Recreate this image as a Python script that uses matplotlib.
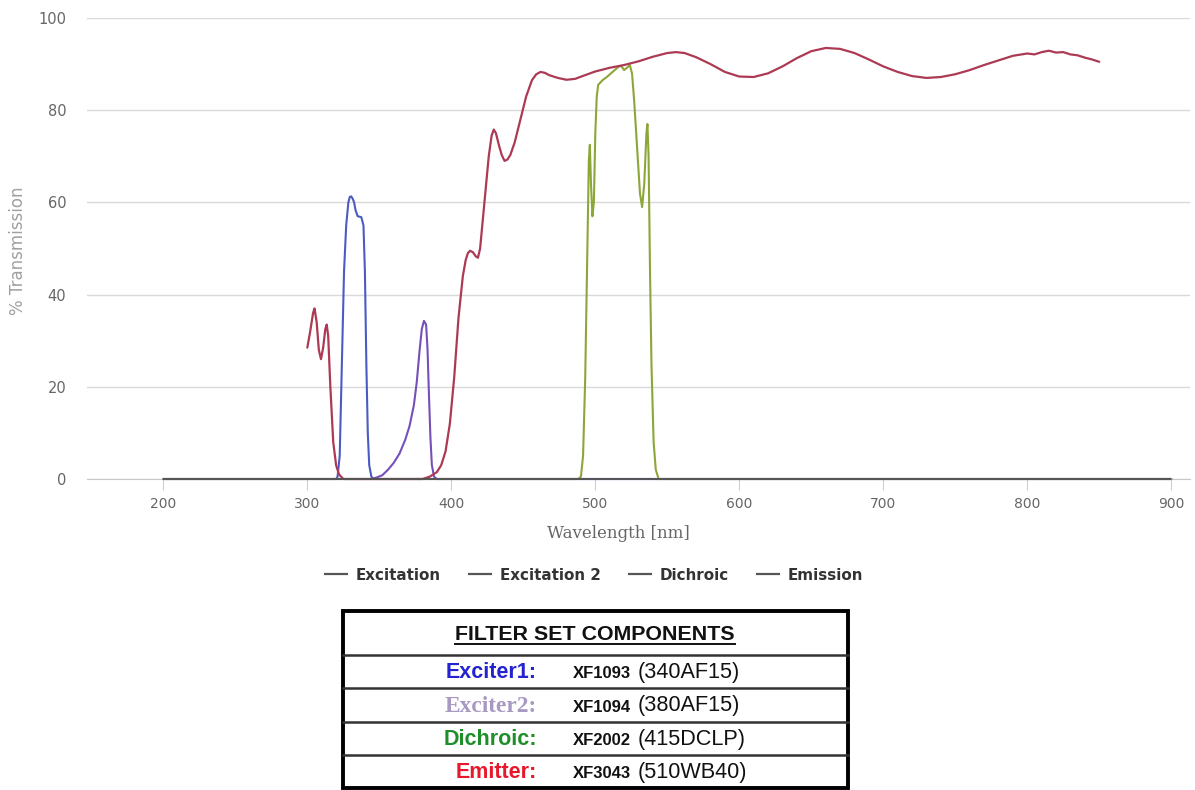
import matplotlib
matplotlib.use("Agg")
import matplotlib.pyplot as plt
from matplotlib.lines import Line2D
from matplotlib.patches import Rectangle

# emission filter (XF3043)
em_wl = [300, 302, 304, 305, 306.5, 308, 309.5, 311, 312.5, 313.5, 314.5, 316, 318, 320, 322, 325,
         380, 385, 390, 393, 396, 399, 402, 405, 408, 410, 411.5, 413, 415, 417, 418.5, 420, 423,
         426, 428, 429.5, 431, 433, 435, 437, 439, 441, 444, 448, 452, 456, 459, 462, 465, 468, 474,
         480, 486, 492, 500, 510, 520, 530, 540, 550, 556, 562, 570, 580, 590, 600,
         610, 620, 630, 640, 650, 660, 670, 680, 690, 700, 710, 720, 730, 740, 750,
         760, 770, 780, 790, 800, 805, 810, 815, 820, 825, 830, 835, 840, 845, 850]
em_t = [28.5, 32, 36, 37, 34, 28, 26, 28.5, 32.5, 33.5, 31, 20, 8, 3, 1, 0,
        0, 0.5, 1.5, 3, 6, 12, 22, 35, 44, 47.5, 49, 49.5, 49.2, 48.3, 48, 50, 60,
        70, 74.5, 75.8, 75, 72.5, 70.3, 69, 69.3, 70.3, 73, 78, 83, 86.5, 87.8, 88.3, 88.1, 87.6, 87,
        86.6, 86.8, 87.5, 88.4, 89.2, 89.8, 90.6, 91.6, 92.4, 92.6, 92.4, 91.5, 90, 88.3, 87.3,
        87.2, 88, 89.5, 91.3, 92.8, 93.5, 93.3, 92.4, 91, 89.5, 88.3, 87.4, 87, 87.2, 87.8,
        88.7, 89.8, 90.8, 91.8, 92.3, 92.1, 92.6, 92.9, 92.5, 92.6, 92.1, 91.9, 91.4, 91.0, 90.5]

# exciter 1 (XF1093)
ex1_wl = [200, 320, 321, 322.5, 324, 325.5, 327, 328.5, 329.5, 330.5, 331.5, 332.5, 333.5,
          335, 337.5, 339, 340, 341, 342, 343, 344.5, 346, 900]
ex1_t = [0, 0, 0.5, 5, 25, 45, 55, 60, 61.2, 61.3, 60.8, 60, 58.3,
         57, 56.8, 55, 45, 25, 10, 3, 0.5, 0, 0]

# exciter 2 (XF1094)
ex2_wl = [200, 344, 348, 352, 356, 360, 364, 368, 371, 374, 376, 378, 379.5, 381,
          382.5, 383.5, 384.5, 385.5, 386.5, 388, 390, 900]
ex2_t = [0, 0, 0.3, 0.8, 2, 3.5, 5.5, 8.5, 11.5, 16, 21, 28, 32.5, 34.3,
         33.5, 28, 18, 9, 3, 0.5, 0, 0]

# dichroic (XF2002)
di_wl = [200, 488, 490, 491.5, 493, 494.5, 495.5, 496.2, 497, 498, 499, 500, 501, 502,
         505, 508, 512, 516, 518, 520, 522, 524, 525.5, 527, 529, 531, 532.5, 534,
         535.5, 536.2, 537, 538, 539, 540.5, 542, 544, 900]
di_t = [0, 0, 0.5, 5, 22, 50, 69, 72.5, 64, 57, 60, 75, 83, 85.5,
        86.5, 87.2, 88.3, 89.4, 89.6, 88.7, 89.2, 89.8, 88, 82, 72, 62, 59, 64,
        75, 77, 70, 45, 25, 8, 2, 0, 0]

series_names = ["Excitation", "Excitation 2", "Dichroic", "Emission"]

table_labels = ["Exciter1:", "Exciter2:", "Dichroic:", "Emitter:"]
table_parts = ["XF1093", "XF1094", "XF2002", "XF3043"]
table_desc = ["(340AF15)", "(380AF15)", "(415DCLP)", "(510WB40)"]
table_colors = ["#2323cf", "#a899c2", "#1f8f2a", "#e8182c"]

W, H = 1195, 790
fig = plt.figure(figsize=(W / 100, H / 100), dpi=100)
fig.patch.set_facecolor("white")

ax = fig.add_axes([87 / W, 1 - 479 / H, (1190 - 87) / W, (479 - 18) / H])
ax.set_xlim(147, 913)
ax.set_ylim(0, 100)

kw = dict(clip_on=False, solid_joinstyle="round", solid_capstyle="round")
ax.plot(ex1_wl, ex1_t, color="#4a5bc4", lw=1.5, zorder=3, **kw)
ax.plot(ex2_wl, ex2_t, color="#7550b8", lw=1.5, zorder=3, **kw)
ax.plot(di_wl, di_t, color="#8da63a", lw=1.5, zorder=3, **kw)
ax.plot(em_wl, em_t, color="#ad3a54", lw=1.6, zorder=4, **kw)
ax.hlines(0, ex1_wl[0], ex1_wl[-1], color="#555555", lw=1.4, zorder=5, clip_on=False)

ax.set_yticks([0, 20, 40, 60, 80, 100])
ax.set_xticks([200, 300, 400, 500, 600, 700, 800, 900])
ax.grid(axis="y", color="#d9d9d9", lw=1)
ax.set_axisbelow(True)
for s in ["top", "right", "left"]:
    ax.spines[s].set_visible(False)
ax.spines["bottom"].set_color("#c8c8c8")
ax.tick_params(axis="y", length=0, pad=15, labelsize=10.5, labelcolor="#666666")
ax.tick_params(axis="x", length=8, color="#d0d0d0", pad=5, labelsize=10,
               labelcolor="#666666")

ax.set_xlabel("Wavelength [nm]", family="DejaVu Serif", fontsize=12, color="#666666")
ax.xaxis.set_label_coords((618 - 87) / 1103, -54 / 461)
ax.xaxis.label.set_va("center")
fig.text(18 / W, 1 - 251 / H, "% Transmission", rotation=90, ha="center",
         va="center", fontsize=12, color="#a0a0a0")

handles = [Line2D([], [], color="#555555", lw=1.6) for _ in series_names]
leg = fig.legend(handles, series_names, loc="center", bbox_to_anchor=(594 / W, 1 - 575 / H),
                 ncol=4, frameon=False, handlelength=1.45, handletextpad=0.6,
                 columnspacing=1.85, prop={"weight": "bold", "size": 10.9})
for t in leg.get_texts():
    t.set_color("#333333")

# filter set table, drawn in pixel space
tab = fig.add_axes([0, 0, 1, 1])
tab.set_xlim(0, W)
tab.set_ylim(H, 0)
tab.axis("off")

x0, x1, top, bot = 343, 848, 611, 788
row_lines = [655, 688, 722, 755]
for y in row_lines:
    tab.plot([x0, x1], [y, y], color="#333333", lw=1.8)
tab.add_patch(Rectangle((x0, top), x1 - x0, bot - top, fill=False, ec="black", lw=2.8))

tab.text(595, 634, "FILTER SET COMPONENTS", ha="center", va="center",
         family="Liberation Sans", weight="bold", fontsize=15.4, color="#111111")
tab.plot([455, 735], [644, 644], color="#111111", lw=1.4)

row_tops = row_lines
row_bots = row_lines[1:] + [bot]
for i, lab in enumerate(table_labels):
    yc = (row_tops[i] + row_bots[i]) / 2 + 1
    fam = "Liberation Serif" if i == 1 else "Liberation Sans"
    size = 16.8 if i == 1 else 15.5
    tab.text(537, yc, lab, ha="right", va="center", family=fam, weight="bold",
             fontsize=size, color=table_colors[i])
    tab.text(573, yc + 1, table_parts[i], ha="left", va="center", family="Liberation Sans",
             weight="bold", fontsize=12, color="#111111")
    tab.text(638, yc, table_desc[i], ha="left", va="center", family="Liberation Sans",
             fontsize=15.6, color="#111111")

fig.savefig("out.png", dpi=100)
